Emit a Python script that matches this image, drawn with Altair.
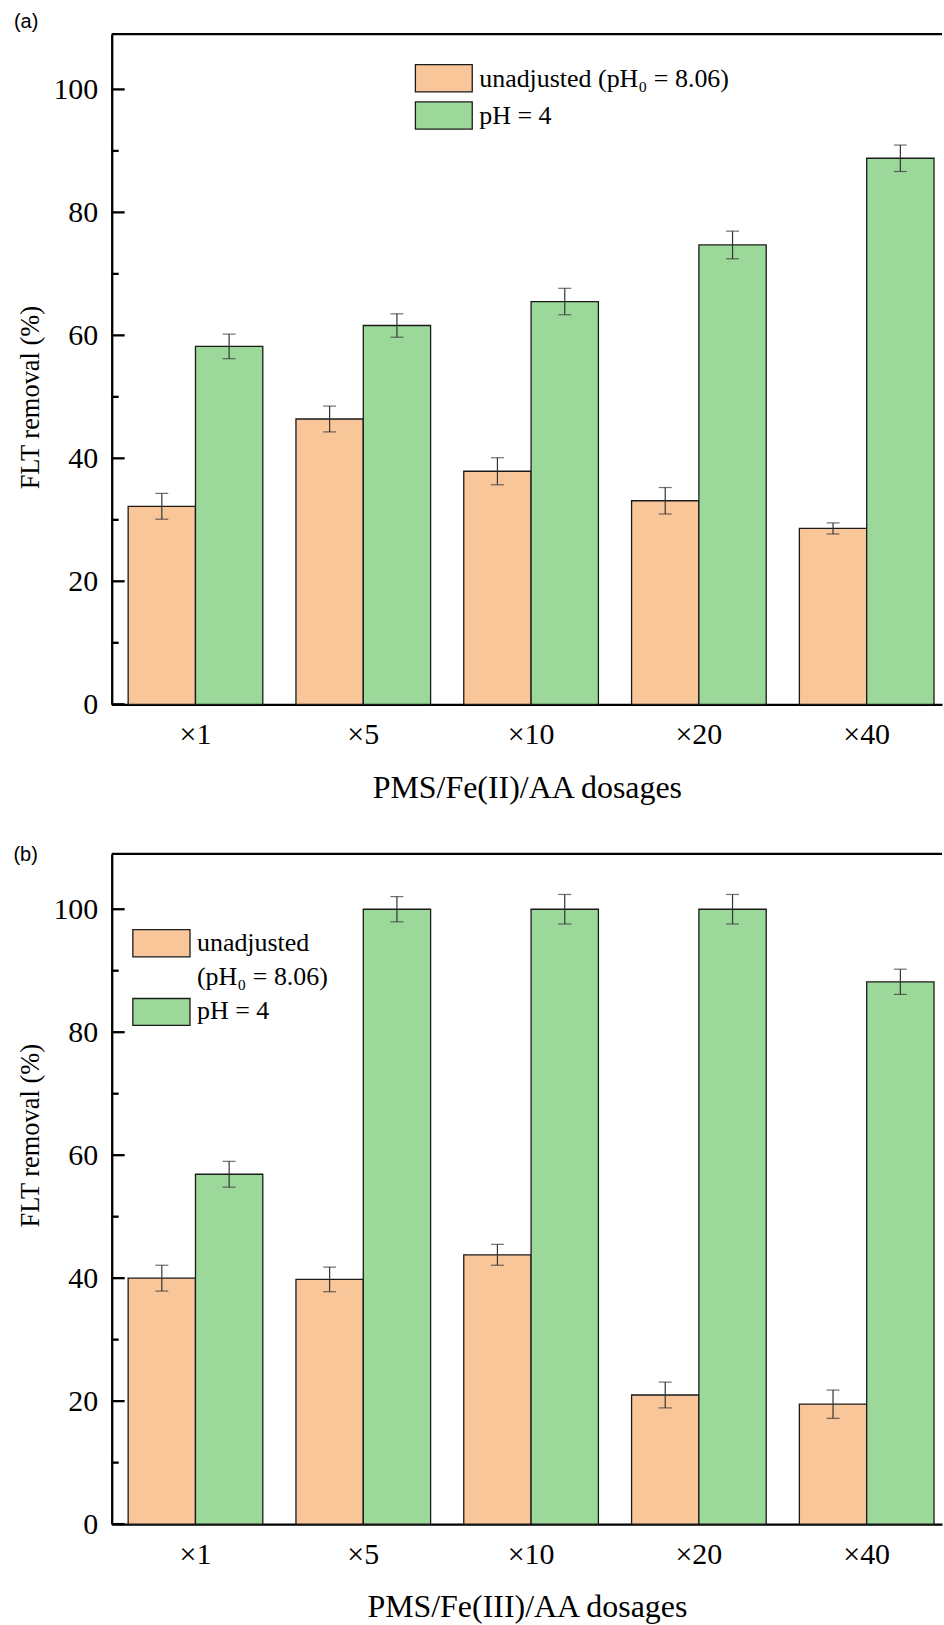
import altair as alt
import pandas as pd

categories = ["×1", "×5", "×10", "×20", "×40"]
series = ["unadjusted", "pH = 4"]

a_unadj = [32.2, 46.4, 37.9, 33.1, 28.6]
a_unadj_err = [2.1, 2.1, 2.2, 2.15, 0.9]
a_ph4 = [58.2, 61.6, 65.5, 74.7, 88.8]
a_ph4_err = [2.0, 1.9, 2.15, 2.25, 2.15]

b_unadj = [40.0, 39.8, 43.8, 21.0, 19.5]
b_unadj_err = [2.1, 2.0, 1.7, 2.1, 2.3]
b_ph4 = [56.9, 100.0, 100.0, 100.0, 88.2]
b_ph4_err = [2.1, 2.05, 2.4, 2.4, 2.05]

major_ticks = [0, 20, 40, 60, 80, 100]
minor_ticks = [10, 30, 50, 70, 90]

ORANGE = "#F9C69A"
GREEN = "#9DD89B"
SERIF = "Liberation Serif"
SANS = "Liberation Sans"

W = 832.5
H = 672


def make_df(u, ue, p, pe):
    rows = []
    for i, c in enumerate(categories):
        rows.append({"cat": c, "series": series[0], "val": u[i], "lo": u[i] - ue[i], "hi": u[i] + ue[i]})
        rows.append({"cat": c, "series": series[1], "val": p[i], "lo": p[i] - pe[i], "hi": p[i] + pe[i]})
    return pd.DataFrame(rows)


def text_layer(txt, x, y, size, font=SERIF, baseline="alphabetic"):
    return alt.Chart(pd.DataFrame({"label": [txt]})).mark_text(
        font=font, fontSize=size, align="left", baseline=baseline, color="black"
    ).encode(x=alt.value(x), y=alt.value(y), text="label:N")


def rect_layer(x, x2, y, y2, color):
    return alt.Chart(pd.DataFrame({"k": [0]})).mark_rect(
        fill=color, stroke="#1a1a1a", strokeWidth=1.3
    ).encode(x=alt.value(x), x2=alt.value(x2), y=alt.value(y), y2=alt.value(y2))


def make_panel(u, ue, p, pe, xtitle, tag, legend_layers, ytitle_y):
    df = make_df(u, ue, p, pe)
    yscale = alt.Scale(domain=[0, 109], nice=False)
    yaxis = alt.Axis(values=major_ticks, ticks=False, tickSize=0, labelPadding=14,
                     labelFont=SERIF, labelFontSize=30, titleFont=SERIF, titleFontSize=26.5,
                     grid=False, titleX=-81, titleY=ytitle_y, titleAngle=270,
                     titleBaseline="middle", titleAlign="center")
    x_enc = alt.X("cat:N", sort=categories, title=xtitle,
                  scale=alt.Scale(paddingInner=0.1976, paddingOuter=0.0728, align=0.673),
                  axis=alt.Axis(labelAngle=0, ticks=False, tickSize=0, labelPadding=15,
                                labelFont=SERIF, labelFontSize=30, titleFont=SERIF,
                                titleFontSize=32, titleY=93, titleBaseline="alphabetic",
                                grid=False))
    xoff = alt.XOffset("series:N", sort=series, scale=alt.Scale(paddingInner=0, paddingOuter=0))
    color = alt.Color("series:N", scale=alt.Scale(domain=series, range=[ORANGE, GREEN]), legend=None)
    ytitle = "FLT removal (%)"

    base = alt.Chart(df)
    bars = base.mark_bar(stroke="#1a1a1a", strokeWidth=1.3).encode(
        x=x_enc, xOffset=xoff,
        y=alt.Y("val:Q", scale=yscale, axis=yaxis, title=ytitle),
        color=color,
    )
    err = base.mark_rule(color="#333333", strokeWidth=1.2).encode(
        x=x_enc, xOffset=xoff,
        y=alt.Y("lo:Q", scale=yscale, axis=yaxis, title=ytitle), y2="hi:Q",
    )
    cap_hi = base.mark_tick(color="#333333", thickness=1.2, size=13).encode(
        x=x_enc, xOffset=xoff,
        y=alt.Y("hi:Q", scale=yscale, axis=yaxis, title=ytitle),
    )
    cap_lo = base.mark_tick(color="#333333", thickness=1.2, size=13).encode(
        x=x_enc, xOffset=xoff,
        y=alt.Y("lo:Q", scale=yscale, axis=yaxis, title=ytitle),
    )
    maj = alt.Chart(pd.DataFrame({"t": major_ticks})).mark_rule(color="black", strokeWidth=2.3).encode(
        y=alt.Y("t:Q", scale=yscale, axis=yaxis, title=ytitle),
        x=alt.value(0), x2=alt.value(13),
    )
    mnr = alt.Chart(pd.DataFrame({"t": minor_ticks})).mark_rule(color="black", strokeWidth=2.3).encode(
        y=alt.Y("t:Q", scale=yscale, axis=yaxis, title=ytitle),
        x=alt.value(0), x2=alt.value(7),
    )
    top = alt.Chart(pd.DataFrame({"k": [0]})).mark_rule(color="black", strokeWidth=2.3).encode(
        x=alt.value(0), x2=alt.value(W), y=alt.value(0),
    )
    anchor = alt.Chart(pd.DataFrame({"k": [0]})).mark_rect(opacity=0).encode(
        x=alt.value(-111.5), x2=alt.value(-110), y=alt.value(-32), y2=alt.value(-30),
    )
    tag_layer = text_layer(tag[0], tag[1], tag[2], 20, font=SANS, baseline="top")
    layers = [bars, err, cap_hi, cap_lo, maj, mnr, top, tag_layer] + legend_layers
    if tag[0] == "(a)":
        layers = [anchor] + layers
    return alt.layer(*layers).properties(width=W, height=H)


legend_a = [
    rect_layer(304.5, 361.5, 30.7, 58, ORANGE),
    rect_layer(304.5, 361.5, 68, 95.3, GREEN),
    text_layer("unadjusted (pH₀ = 8.06)", 368.5, 53, 26),
    text_layer("pH = 4", 368.5, 89.7, 26),
]
legend_b = [
    rect_layer(21.2, 78.5, 76, 103.3, ORANGE),
    rect_layer(21.2, 78.5, 145, 172, GREEN),
    text_layer("unadjusted", 85.5, 97.7, 26),
    text_layer("(pH₀ = 8.06)", 85.5, 131.7, 26),
    text_layer("pH = 4", 85.5, 166, 26),
]

panel_a = make_panel(a_unadj, a_unadj_err, a_ph4, a_ph4_err, "PMS/Fe(II)/AA dosages",
                     ("(a)", -98, -22), legend_a, 364)
panel_b = make_panel(b_unadj, b_unadj_err, b_ph4, b_ph4_err, "PMS/Fe(III)/AA dosages",
                     ("(b)", -98.5, -9), legend_b, 282)

chart = alt.vconcat(panel_a, panel_b, spacing=150, bounds="flush").properties(
    padding={"left": 0, "top": 0, "right": 0, "bottom": 0}
).configure_view(strokeWidth=0).configure_axis(
    domainColor="black", domainWidth=2.3, labelColor="black", titleColor="black",
    titleFontWeight="normal",
)

chart.save("out.html", embed_options={"renderer": "svg", "actions": False})
